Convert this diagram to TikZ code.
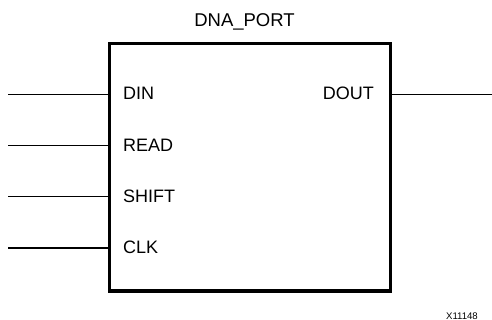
\documentclass[tikz,border=0pt]{standalone}
\usepackage{fontspec}
\setmainfont{Liberation Sans}
\usetikzlibrary{positioning}

\begin{document}
\begin{tikzpicture}[x=1pt, y=-1pt,
                          blocknode/.style={rectangle, draw, line width=3.8pt, minimum width=281pt, minimum height=247.5pt, inner sep=0pt},
                          pinlabel/.style={inner sep=0pt, font=\fontsize{18}{20}\selectfont},
                          titlenode/.style={inner sep=0pt, font=\fontsize{18.5}{20}\selectfont},
                          codenode/.style={inner sep=0pt, font=\fontsize{9.6}{10}\selectfont},
                          pinline/.style={line width=1.3pt},
                      ]
                      \useasboundingbox (0,0) rectangle (492,320);
                      %Nodes
                      \node[blocknode]   (dna)                                   at (250,167.25) {};
                      \node[titlenode]   (title)    [anchor=base]                at (244.5,26.5) {DNA\_PORT};
                      \node[pinlabel]    (din)      [anchor=base west]           at (123,100)    {DIN};
                      \node[pinlabel]    (read)     [anchor=base west]           at (123,151.3)  {READ};
                      \node[pinlabel]    (shift)    [anchor=base west]           at (123,202.6)  {SHIFT};
                      \node[pinlabel]    (clk)      [anchor=base west]           at (123,253.9)  {CLK};
                      \node[pinlabel]    (dout)     [anchor=base east]           at (374,100)    {DOUT};
                      \node[codenode]    (code)     [anchor=base east]           at (478,319)    {X11148};

                      %Pin ends
                      \coordinate (din_end)   at (8,94.2);
                      \coordinate (read_end)  at (8,145.5);
                      \coordinate (shift_end) at (8,196.8);
                      \coordinate (clk_end)   at (8,248.1);
                      \coordinate (dout_end)  at (492,94.2);

                      %Lines
                      \draw[pinline] (din_end)   -- (din_end -| dna.west);
                      \draw[pinline] (read_end)  -- (read_end -| dna.west);
                      \draw[pinline] (shift_end) -- (shift_end -| dna.west);
                      \draw[pinline] (clk_end)   -- (clk_end -| dna.west);
                      \draw[pinline] (dna.east |- dout_end) -- (dout_end);
                  \end{tikzpicture}
\end{document}
